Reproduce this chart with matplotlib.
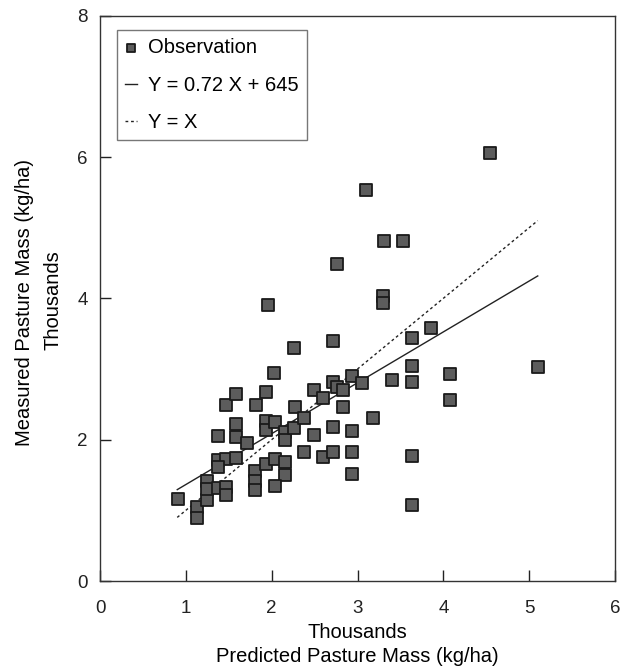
import numpy as np
import matplotlib
matplotlib.use("Agg")
import matplotlib.pyplot as plt

plt.rcParams['font.family'] = ['Liberation Sans', 'DejaVu Sans']

# observations, thousands of kg/ha
pred = [0.91, 1.13, 1.13, 1.25, 1.25, 1.25, 1.37, 1.47, 1.47,
        1.37, 1.47, 1.59, 1.37,
        1.37, 1.59, 1.59, 1.71,
        1.47, 1.59,
        1.82, 1.93, 2.03, 1.96,
        1.81, 1.81, 1.81,
        1.93, 2.04, 2.16, 2.16, 2.04,
        1.93, 1.93, 2.04, 2.16, 2.16, 2.26,
        2.27, 2.26, 2.38, 2.38,
        2.49, 2.49, 2.60, 2.60,
        2.71, 2.76, 2.83, 2.71, 2.71, 2.71, 2.76,
        2.83, 2.94, 2.94, 2.94, 2.94,
        3.05, 3.10, 3.18,
        3.31, 3.53, 3.30, 3.30, 3.40,
        3.63, 3.63, 3.63, 3.63, 3.63, 3.86,
        4.08, 4.08, 4.54, 5.10]
meas = [1.16, 1.05, 0.89, 1.15, 1.42, 1.30, 1.32, 1.33, 1.21,
        1.71, 1.73, 1.74, 1.62,
        2.05, 2.04, 2.22, 1.96,
        2.49, 2.64,
        2.49, 2.67, 2.95, 3.91,
        1.55, 1.42, 1.29,
        1.65, 1.72, 1.68, 1.50, 1.35,
        2.26, 2.13, 2.25, 2.11, 1.99, 2.16,
        2.46, 3.30, 2.30, 1.82,
        2.70, 2.07, 2.59, 1.76,
        2.82, 2.74, 2.70, 2.18, 1.82, 3.40, 4.48,
        2.46, 2.90, 2.12, 1.82, 1.52,
        2.80, 5.53, 2.31,
        4.81, 4.81, 4.04, 3.93, 2.85,
        3.44, 3.04, 2.81, 1.77, 1.08, 3.58,
        2.93, 2.56, 6.05, 3.03]

# fitted line Y = 0.72 X + 645 (kg/ha) and Y = X, over the predicted range
line_x = [0.9, 5.1]
slope = 0.72
intercept = 0.645

fig = plt.figure(figsize=(6.27, 6.69), dpi=100)
ax = fig.add_axes([100 / 627, 1 - 581 / 669, 515 / 627, 565.3 / 669])

ax.scatter(pred, meas, s=70, marker='s', facecolor='#5c5c5c', edgecolor='#1a1a1a',
           linewidth=1.3, zorder=3, label='Observation')
fx = np.array(line_x)
ax.plot(fx, slope * fx + intercept, color='#222222', lw=1.0, label='Y = 0.72 X + 645')
ax.plot(fx, fx, color='#222222', lw=1.0, linestyle=(0, (2, 2)), label='Y = X')

ax.set_xlim(0, 6)
ax.set_ylim(0, 8)
ax.set_xticks([0, 1, 2, 3, 4, 5, 6])
ax.set_yticks([0, 2, 4, 6, 8])
ax.tick_params(direction='in', length=8, width=1, labelsize=13.5, colors='#222222')
ax.tick_params(axis='x', pad=14)
ax.tick_params(axis='y', pad=9)
for sp in ax.spines.values():
    sp.set_color('#333333')
    sp.set_linewidth(1.0)

leg = ax.legend(loc='upper left', bbox_to_anchor=(0.033, 0.974), fontsize=14.5,
                frameon=True, fancybox=False, handlelength=0.6, handletextpad=0.55,
                borderpad=0.4, labelspacing=0.9, borderaxespad=0, markerscale=0.65)
leg.get_frame().set_edgecolor('#555555')
leg.get_frame().set_linewidth(1.0)

fig.text(357 / 627, 1 - 632 / 669, 'Thousands', ha='center', va='center', fontsize=14.5)
fig.text(357 / 627, 1 - 656 / 669, 'Predicted Pasture Mass (kg/ha)', ha='center',
         va='center', fontsize=14.5)
fig.text(53 / 627, 1 - 300 / 669, 'Thousands', ha='center', va='center',
         rotation=90, fontsize=14.5)
fig.text(25 / 627, 1 - 302 / 669, 'Measured Pasture Mass (kg/ha)', ha='center',
         va='center', rotation=90, fontsize=14.5)

fig.savefig('out.png', dpi=100)
